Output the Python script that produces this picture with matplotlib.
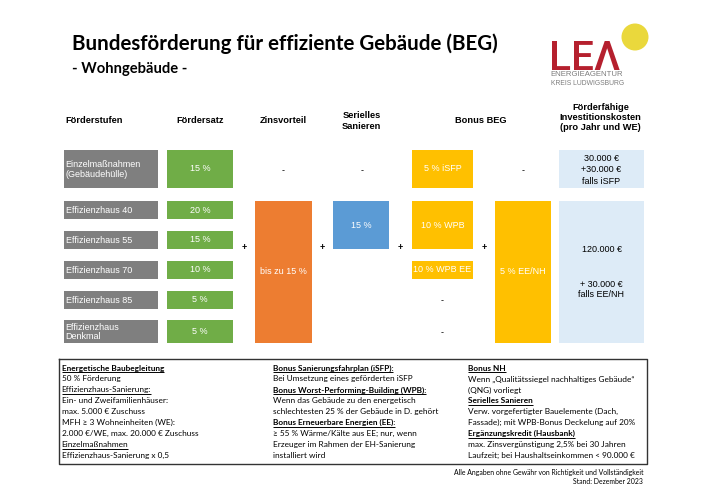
import matplotlib
matplotlib.use("Agg")
import matplotlib.pyplot as plt
from matplotlib.patches import Circle
from matplotlib import font_manager

# ---------------- data ----------------
title = "Bundesförderung für effiziente Gebäude (BEG)"
subtitle = "- Wohngebäude -"
col_headers = ["Förderstufen", "Fördersatz", "Zinsvorteil", "Serielles\nSanieren",
               "Bonus BEG", "Förderfähige\nInvestitionskosten\n(pro Jahr und WE)"]
stages = ["Einzelmaßnahmen\n(Gebäudehülle)", "Effizienzhaus 40", "Effizienzhaus 55",
          "Effizienzhaus 70", "Effizienzhaus 85", "Effizienzhaus\nDenkmal"]
foerdersatz = [15, 20, 15, 10, 5, 5]
zinsvorteil_max = 15
seriell = 15
bonus_isfp = 5
bonus_wpb = 10
bonus_wpb_ee = 10
bonus_ee_nh = 5
kosten_einzel = ["30.000 €", "+30.000 €", "falls iSFP"]
kosten_eh = ["120.000 €", "+ 30.000 €\nfalls EE/NH"]

col1 = [("Energetische Baubegleitung", "bu"), ("50 % Förderung", ""),
        ("Effizienzhaus-Sanierung:", "u"), ("Ein- und Zweifamilienhäuser:", ""),
        ("max. 5.000 € Zuschuss", ""), ("MFH ≥ 3 Wohneinheiten (WE):", ""),
        ("2.000 €/WE, max. 20.000 € Zuschuss", ""), ("Einzelmaßnahmen", "u"),
        ("Effizienzhaus-Sanierung x 0,5", "")]
col2 = [("Bonus Sanierungsfahrplan (iSFP):", "bu"), ("Bei Umsetzung eines geförderten iSFP", ""),
        ("Bonus Worst-Performing-Building (WPB):", "bu"),
        ("Wenn das Gebäude zu den energetisch", ""),
        ("schlechtesten 25 % der Gebäude in D. gehört", ""),
        ("Bonus Erneuerbare Energien (EE):", "bu"),
        ("≥ 55 % Wärme/Kälte aus EE; nur, wenn", ""),
        ("Erzeuger im Rahmen der EH-Sanierung", ""), ("installiert wird", "")]
col3 = [("Bonus NH", "bu"), ("Wenn „Qualitätssiegel nachhaltiges Gebäude“", ""),
        ("(QNG) vorliegt", ""), ("Serielles Sanieren", "bu"),
        ("Verw. vorgefertigter Bauelemente (Dach,", ""),
        ("Fassade); mit WPB-Bonus Deckelung auf 20%", ""),
        ("Ergänzungskredit (Hausbank)", "bu"),
        ("max. Zinsvergünstigung 2,5% bei 30 Jahren", ""),
        ("Laufzeit; bei Haushaltseinkommen < 90.000 €", "")]
footnote = ["Alle Angaben ohne Gewähr von Richtigkeit und Vollständigkeit",
            "Stand: Dezember 2023"]

# ---------------- styling ----------------
GREY = "#7f7f7f"
GREEN = "#70ad47"
ORANGE = "#ed7d31"
BLUE = "#5b9bd5"
YELLOW = "#ffc000"
LIGHT = "#ddebf7"
RED = "#b5202e"

names = {f.name for f in font_manager.fontManager.ttflist}
SANS = ["Liberation Sans", "DejaVu Sans"]
CAL = ["Lato", "DejaVu Sans"] if "Lato" in names else ["DejaVu Sans"]
LOGO = ["Roboto", "DejaVu Sans"] if "Roboto" in names else SANS

fig = plt.figure(figsize=(7.03, 4.97), dpi=100)
ax = fig.add_axes([0, 0, 1, 1])
ax.set_xlim(0, 703)
ax.set_ylim(497, 0)
ax.axis("off")
renderer = fig.canvas.get_renderer()


def fit(t, target):
    w = t.get_window_extent(renderer).width
    t.set_fontsize(t.get_fontsize() * target / w)
    return t.get_fontsize()


def fit_size(txt, target, family, weight="normal"):
    t = ax.text(0, 0, txt, fontsize=7, family=family, fontweight=weight)
    s = fit(t, target)
    t.remove()
    return s


def underline(t, y):
    bb = t.get_window_extent(renderer)
    (x0, _), (x1, _) = ax.transData.inverted().transform([[bb.x0, bb.y0], [bb.x1, bb.y0]])
    ax.plot([x0, x1], [y + 1.6, y + 1.6], color="black", lw=0.7, solid_capstyle="butt")


def bar(x0, x1, y0, y1, color):
    ax.bar((x0 + x1) / 2, y1 - y0, width=x1 - x0, bottom=y0, color=color, linewidth=0)


# ---------------- title & logo ----------------
t = ax.text(72, 44, title, fontsize=15, fontweight="bold", family=CAL, va="center", ha="left")
fit(t, 426)
t = ax.text(72, 69.5, subtitle, fontsize=11, fontweight="bold", family=CAL, va="center", ha="left")
fit(t, 115)

ax.add_patch(Circle((635, 37), 13.5, color="#ead83c", lw=0))
t = ax.text(549.5, 69.5, "LEΛ", fontsize=30, color=RED, family=LOGO, fontweight="medium",
            va="baseline", ha="left")
fit(t, 71)
t = ax.text(550.7, 74.8, "ENERGIEAGENTUR", fontsize=6, color="#7d7d7d", family=SANS,
            va="center", ha="left")
fit(t, 72.6)
t = ax.text(550.7, 83.5, "KREIS LUDWIGSBURG", fontsize=6, color="#7d7d7d", family=SANS,
            va="center", ha="left")
fit(t, 72.6)

# ---------------- column headers ----------------
hdr_x = [65, 200, 283, 361.7, 481, 600.5]
hdr_y = [120.7, 120.7, 120.7, 121, 120.7, 117.3]
hs = fit_size(col_headers[0], 57, SANS, "bold")
for i in range(len(col_headers)):
    ax.text(hdr_x[i], hdr_y[i], col_headers[i], fontsize=hs, fontweight="bold", family=SANS,
            va="center", ha="left" if i == 0 else "center", linespacing=1.15)

# ---------------- rows ----------------
row_top = [150, 201.3, 231, 261, 290.7, 320.3]
row_bot = [187.7, 219, 248.7, 278.7, 308.7, 342.7]

bs = min(fit_size("Effizienzhaus 40", 70, SANS), fit_size("10 % WPB EE", 58, SANS))

for i, (lab, val) in enumerate(zip(stages, foerdersatz)):
    y0, y1 = row_top[i], row_bot[i]
    yc = (y0 + y1) / 2
    bar(64.3, 158.3, y0, y1, GREY)
    ax.text(65.5, yc + 0.5, lab, fontsize=bs, color="white", family=SANS, va="center",
            ha="left", linespacing=1.1)
    bar(166.7, 233.3, y0, y1, GREEN)
    ax.text(200, yc, f"{val} %", fontsize=bs, color="white", family=SANS,
            va="center", ha="center")

# Zinsvorteil
bar(255, 311.7, row_top[1], row_bot[5], ORANGE)
ax.text(283.3, (row_top[1] + row_bot[5]) / 2, f"bis zu {zinsvorteil_max} %", fontsize=bs,
        color="white", family=SANS, va="center", ha="center")
# Serielles Sanieren
bar(333.3, 389.3, row_top[1], row_bot[2], BLUE)
ax.text(361.3, (row_top[1] + row_bot[2]) / 2, f"{seriell} %", fontsize=bs, color="white",
        family=SANS, va="center", ha="center")
# Bonus BEG
bar(411.7, 473.3, row_top[0], row_bot[0], YELLOW)
ax.text(442.5, (row_top[0] + row_bot[0]) / 2, f"{bonus_isfp} % iSFP", fontsize=bs,
        color="white", family=SANS, va="center", ha="center")
bar(411.7, 473.3, row_top[1], row_bot[2], YELLOW)
ax.text(442.5, (row_top[1] + row_bot[2]) / 2, f"{bonus_wpb} % WPB", fontsize=bs,
        color="white", family=SANS, va="center", ha="center")
bar(411.7, 473.3, row_top[3], row_bot[3], YELLOW)
ax.text(442.5, (row_top[3] + row_bot[3]) / 2, f"{bonus_wpb_ee} % WPB EE", fontsize=bs,
        color="white", family=SANS, va="center", ha="center")
bar(494.7, 550.7, row_top[1], row_bot[5], YELLOW)
ax.text(522.7, (row_top[1] + row_bot[5]) / 2, f"{bonus_ee_nh} % EE/NH", fontsize=bs,
        color="white", family=SANS, va="center", ha="center")
# Kosten
bar(559.3, 643.7, row_top[0], row_bot[0], LIGHT)
for k, yy in zip(kosten_einzel, [158.3, 169.7, 181]):
    ax.text(601.5, yy, k, fontsize=bs, color="black", family=SANS, va="center", ha="center")
bar(559.3, 643.7, row_top[1], row_bot[5], LIGHT)
ax.text(601.5, 250, kosten_eh[0], fontsize=bs, color="black", family=SANS,
        va="center", ha="center")
ax.text(601.5, 289.5, kosten_eh[1], fontsize=bs, color="black", family=SANS,
        va="center", ha="center", linespacing=1.1)

# plus / minus signs
for x in [244.3, 322.7, 400.7, 484]:
    ax.text(x, 247.7, "+", fontsize=bs, fontweight="bold", family=SANS, va="center", ha="center")
for x, y in [(283.3, 170.7), (361.7, 170.7), (522.7, 170.7), (442.3, 300.7), (442.3, 332.7)]:
    ax.text(x, y, "-", fontsize=bs, family=SANS, va="center", ha="center")

# ---------------- info box ----------------
ax.plot([59, 647, 647, 59, 59], [359, 359, 463.5, 463.5, 359], color="#333333", lw=1.0)
fs = fit_size("2.000 €/WE, max. 20.000 € Zuschuss", 136.6, CAL)
for cx, col in zip([61.7, 272.7, 468.3], [col1, col2, col3]):
    for i, (txt, sty) in enumerate(col):
        yb = 370.6 + i * 10.9
        t = ax.text(cx, yb, txt, fontsize=fs, family=CAL, va="baseline", ha="left",
                    fontweight="bold" if "b" in sty else "normal")
        if "u" in sty:
            underline(t, yb)

t = ax.text(643, 473, footnote[0], fontsize=5, family=CAL, va="center", ha="right")
ffs = fit(t, 190)
ax.text(643, 482, footnote[1], fontsize=ffs, family=CAL, va="center", ha="right")

fig.savefig("out.png", dpi=100)
